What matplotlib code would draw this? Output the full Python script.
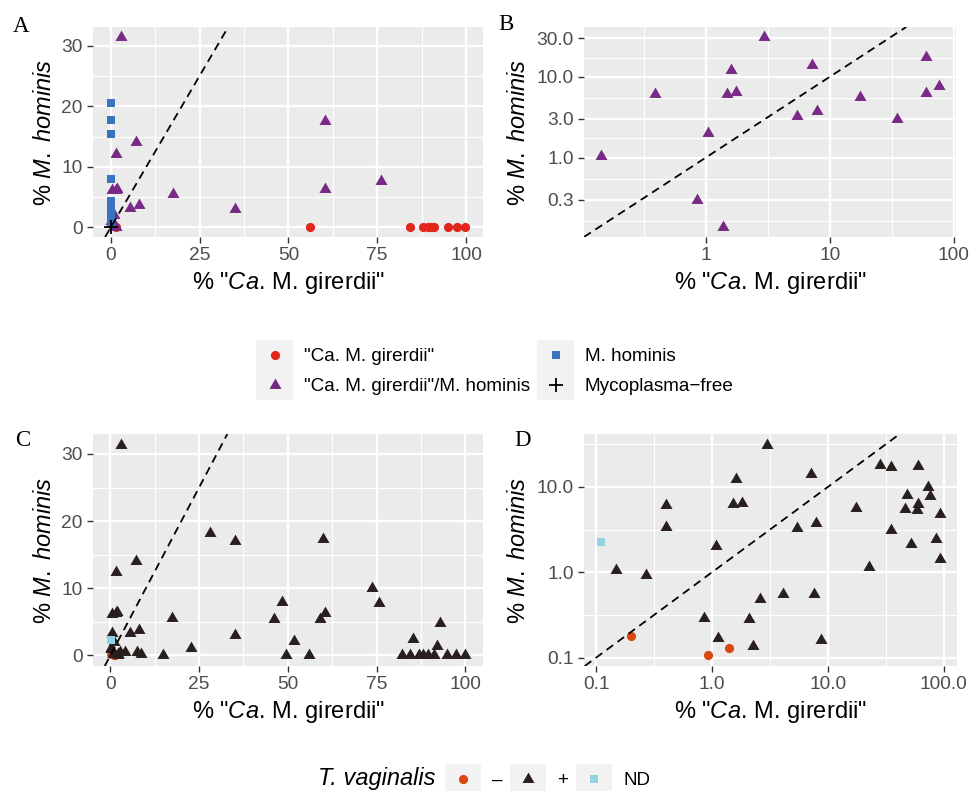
import numpy as np
import matplotlib
matplotlib.use('Agg')
import matplotlib.pyplot as plt
from matplotlib.lines import Line2D
from matplotlib.patches import Rectangle
from matplotlib.legend_handler import HandlerBase

plt.rcParams['font.family'] = ['Liberation Sans', 'DejaVu Sans']
plt.rcParams['mathtext.fontset'] = 'custom'
plt.rcParams['mathtext.rm'] = 'Liberation Sans'
plt.rcParams['mathtext.it'] = 'Liberation Sans:italic'

# ---------------- data: panels A / B (by Mycoplasma group) ----------------
girerdii_x = [1.6, 56.1, 84.3, 88.0, 89.2, 90.1, 90.9, 94.8, 97.5, 99.8]
girerdii_y = [0, 0, 0, 0, 0, 0, 0, 0, 0, 0]
hominis_x = [0, 0, 0, 0, 0, 0, 0, 0, 0, 0]
hominis_y = [20.5, 17.7, 15.4, 8.0, 4.4, 3.0, 2.4, 1.8, 1.2, 0.6]
both_x = [0.142, 0.386, 0.84, 1.04, 1.38, 1.47, 1.75, 1.58, 2.94, 7.2,
          5.42, 7.9, 17.5, 34.9, 60.2, 60.2, 76.2]
both_y = [1.05, 6.1, 0.296, 2.04, 0.136, 6.2, 6.4, 12.2, 31.5, 14.1,
          3.25, 3.72, 5.54, 3.04, 17.5, 6.28, 7.73]
free_x = [0]
free_y = [0]

# ---------------- data: panels C / D (by T. vaginalis status) ----------------
tvneg_x = [0.199, 0.923, 1.41]
tvneg_y = [0.177, 0.106, 0.131]
tvnd_x = [0.110]
tvnd_y = [2.27]
tvpos_x = [3.0, 28.2, 35.2, 60.0, 7.2, 1.61, 73.8, 48.5, 75.8, 0.40,
           1.51, 1.82, 60.4, 17.5, 46.1, 59.2, 93.0, 0.40, 5.47, 7.94,
           35.0, 51.7, 85.3, 1.08, 92.0, 0.148, 22.6, 0.269, 4.11, 7.53,
           2.62, 0.86, 2.10, 1.12, 8.65, 2.25,
           14.7, 49.6, 56.0, 82.1, 84.3, 87.1, 88.2, 89.6, 91.1, 94.8, 97.5, 100.0]
tvpos_y = [31.4, 18.3, 17.0, 17.4, 14.0, 12.4, 10.0, 8.0, 7.8, 6.1,
           6.3, 6.4, 6.3, 5.6, 5.5, 5.4, 4.8, 3.4, 3.3, 3.8,
           3.1, 2.15, 2.45, 2.02, 1.45, 1.05, 1.15, 0.92, 0.55, 0.56,
           0.48, 0.29, 0.28, 0.17, 0.16, 0.135,
           0, 0, 0, 0, 0, 0, 0, 0, 0, 0, 0, 0]

lin_xticks = [0, 25, 50, 75, 100]
lin_yticks = [0, 10, 20, 30]
b_xticks = [1, 10, 100]
b_xlabels = ['1', '10', '100']
b_yticks = [0.3, 1, 3, 10, 30]
b_ylabels = ['0.3', '1.0', '3.0', '10.0', '30.0']
d_ticks = [0.1, 1, 10, 100]
d_labels = ['0.1', '1.0', '10.0', '100.0']

# ---------------- styling ----------------
C_RED = '#E2261C'
C_BLUE = '#3A73BF'
C_PURPLE = '#782A86'
C_ORANGE = '#D9480F'
C_DARK = '#2A1F1F'
C_LBLUE = '#92D3E1'
TRI = [(0, 1), (-0.866, -0.5), (0.866, -0.5), (0, 1)]

W, H = 971, 791
fig = plt.figure(figsize=(W / 100, H / 100), dpi=100)


def px_axes(l, t, r, b):
    return fig.add_axes([l / W, 1 - b / H, (r - l) / W, (b - t) / H])


def style(ax):
    ax.set_facecolor('#EBEBEB')
    for s in ax.spines.values():
        s.set_visible(False)
    ax.grid(True, which='major', color='white', lw=1.7)
    ax.grid(True, which='minor', color='white', lw=0.85)
    ax.set_axisbelow(True)
    ax.tick_params(which='major', length=4.3, width=1.0, color='#333333',
                   labelsize=13.8, labelcolor='#4D4D4D', pad=3)
    ax.tick_params(which='minor', length=0)
    ax.set_xlabel(r'% "$\mathit{Ca.}\,$M. girerdii"', fontsize=17, labelpad=4)
    ax.set_ylabel(r'% $\mathit{M.}$ $\mathit{hominis}$', fontsize=17, labelpad=6)


def lin_lim(v):
    lo, hi = min(v), max(v)
    d = (hi - lo) * 0.05
    return lo - d, hi + d


def log_lim(v):
    l = np.log10(v)
    lo, hi = l.min(), l.max()
    d = (hi - lo) * 0.05
    return 10 ** (lo - d), 10 ** (hi + d)


def lin_axes(ax, xs, ys):
    ax.set_xticks(lin_xticks)
    ax.set_xticks([12.5, 37.5, 62.5, 87.5], minor=True)
    ax.set_yticks(lin_yticks)
    ax.set_yticks([5, 15, 25], minor=True)
    ax.set_xlim(*lin_lim(xs))
    ax.set_ylim(*lin_lim(ys))
    ax.axline((0, 0), slope=1, color='black', lw=1.3, dashes=(4.5, 3))


def mid_minor(ticks):
    l = np.log10(ticks)
    ext = np.concatenate([[l[0] - (l[1] - l[0])], l, [l[-1] + (l[-1] - l[-2])]])
    return list(10 ** ((ext[:-1] + ext[1:]) / 2))


def log_axes(ax, xs, ys, xt, xl, yt, yl):
    xs = np.asarray(xs, float)
    ys = np.asarray(ys, float)
    ok = (xs > 0) & (ys > 0)
    ax.set_xscale('log')
    ax.set_yscale('log')
    ax.set_xticks(xt, xl)
    ax.set_xticks(mid_minor(xt), [''] * (len(xt) + 1), minor=True)
    ax.set_yticks(yt, yl)
    ax.set_yticks(mid_minor(yt), [''] * (len(yt) + 1), minor=True)
    ax.set_xlim(*log_lim(xs[ok]))
    ax.set_ylim(*log_lim(ys[ok]))
    ax.axline((1, 1), (10, 10), color='black', lw=1.3, dashes=(4.5, 3))


groups_ab = [
    (girerdii_x, girerdii_y, dict(marker='o', ms=6.6, color=C_RED, mew=0)),
    (both_x, both_y, dict(marker=TRI, ms=10, color=C_PURPLE, mew=0)),
    (hominis_x, hominis_y, dict(marker='s', ms=6.0, color=C_BLUE, mew=0)),
    (free_x, free_y, dict(marker='+', ms=10, color='black', mew=1.3)),
]
groups_cd = [
    (tvneg_x, tvneg_y, dict(marker='o', ms=6.6, color=C_ORANGE, mew=0)),
    (tvpos_x, tvpos_y, dict(marker=TRI, ms=10, color=C_DARK, mew=0)),
    (tvnd_x, tvnd_y, dict(marker='s', ms=6.0, color=C_LBLUE, mew=0)),
]


def plot_groups(ax, groups, pos_only=False):
    arts = []
    for x, y, kw in groups:
        x = np.asarray(x, float); y = np.asarray(y, float)
        if pos_only:
            ok = (x > 0) & (y > 0)
            x, y = x[ok], y[ok]
        ln, = ax.plot(x, y, linestyle='none', **kw)
        arts.append(ln)
    return arts


all_ab_x = girerdii_x + hominis_x + both_x + free_x
all_ab_y = girerdii_y + hominis_y + both_y + free_y
all_cd_x = tvneg_x + tvnd_x + tvpos_x
all_cd_y = tvneg_y + tvnd_y + tvpos_y

# Panel A
axA = px_axes(93, 27, 483, 237)
style(axA)
handles_ab = plot_groups(axA, groups_ab)
lin_axes(axA, all_ab_x, all_ab_y)

# Panel B
axB = px_axes(584, 27, 956, 237)
style(axB)
plot_groups(axB, groups_ab, pos_only=True)
log_axes(axB, all_ab_x, all_ab_y, b_xticks, b_xlabels, b_yticks, b_ylabels)

# Panel C
axC = px_axes(93, 434, 483, 666)
style(axC)
handles_cd = plot_groups(axC, groups_cd)
lin_axes(axC, all_cd_x, all_cd_y)

# Panel D
axD = px_axes(584, 434, 957, 666)
style(axD)
plot_groups(axD, groups_cd, pos_only=True)
log_axes(axD, all_cd_x, all_cd_y, d_ticks, d_labels, d_ticks[:3], d_labels[:3])

axA.yaxis.set_label_coords(-0.095, 0.5)
axC.yaxis.set_label_coords(-0.095, 0.5)
axB.yaxis.set_label_coords(-0.145, 0.5)
axD.yaxis.set_label_coords(-0.145, 0.5)

# panel letters
for lab, (px, py) in {'A': (21, 26), 'B': (506, 25), 'C': (23, 440), 'D': (523, 441)}.items():
    fig.text(px / W, 1 - py / H, lab, family='Liberation Serif', fontsize=16.5,
             ha='center', va='center')


class KeyHandler(HandlerBase):
    def create_artists(self, legend, orig_handle, xdescent, ydescent,
                       width, height, fontsize, trans):
        r = Rectangle((-xdescent, -ydescent), width, height, facecolor='#F2F2F2',
                      edgecolor='none', transform=trans)
        m = Line2D([-xdescent + width / 2], [-ydescent + height / 2], linestyle='none',
                   marker=orig_handle.get_marker(), ms=orig_handle.get_markersize(),
                   color=orig_handle.get_color(), mew=orig_handle.get_markeredgewidth(),
                   transform=trans)
        return [r, m]


leg1 = fig.legend(handles_ab,
                  ['"Ca. M. girerdii"', '"Ca. M. girerdii"/M. hominis',
                   'M. hominis', 'Mycoplasma\u2212free'],
                  handler_map={Line2D: KeyHandler()}, ncol=2, loc='center',
                  bbox_to_anchor=(495 / W, 1 - 370 / H), frameon=False,
                  fontsize=13.6, borderpad=0, borderaxespad=0,
                  handlelength=1.96, handleheight=2.05, labelspacing=0,
                  handletextpad=0.55, columnspacing=0.4)

leg2 = fig.legend(handles_cd, ['\u2013', '+', 'ND'],
                  handler_map={Line2D: KeyHandler()}, ncol=3, loc='center left',
                  bbox_to_anchor=(445 / W, 1 - 779 / H), frameon=False,
                  fontsize=13.6, borderpad=0, borderaxespad=0,
                  handlelength=1.9, handleheight=2.0, labelspacing=0,
                  handletextpad=0.6, columnspacing=0.4)
fig.text(318 / W, 1 - 779 / H, 'T. vaginalis', style='italic', fontsize=17,
         ha='left', va='center')

fig.savefig('out.png', dpi=100)
